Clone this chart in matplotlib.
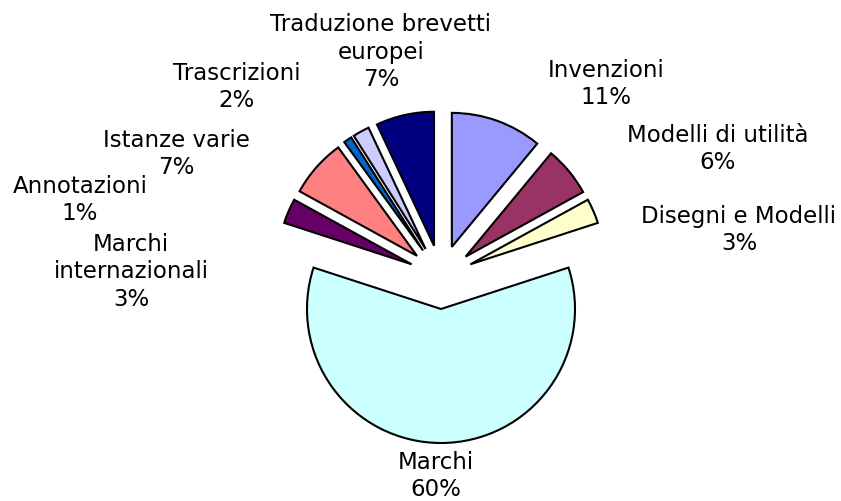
import matplotlib.pyplot as plt

# slices, clockwise from 12 o'clock
categories = ["Invenzioni", "Modelli di utilità", "Disegni e Modelli", "Marchi",
              "Marchi\ninternazionali", "Istanze varie", "Annotazioni",
              "Trascrizioni", "Traduzione brevetti\neuropei"]
shares = [11, 6, 3, 60, 3, 7, 1, 2, 7]
colors = ["#9999FF", "#993366", "#FFFFCC", "#CCFFFF", "#660066",
          "#FF8080", "#0066CC", "#CCCCFF", "#000080"]

# label centres in pixel coords (x from left, y from top)
label_pos = [(606, 84), (718, 149), (739, 230), (436, 476), (131, 272),
             (176, 154), (80, 200), (237, 87), (381, 52)]

W, H = 841, 501
fig = plt.figure(figsize=(W / 100, H / 100), dpi=100)
ax = fig.add_axes([0, 0, 1, 1])

cx, cy = 441, 277
r = 134
explode = [32] * len(shares)   # pie offsets are in data units here (pixels)

ax.pie(shares, colors=colors, explode=explode, startangle=90, counterclock=False,
       center=(cx, H - cy), radius=r, frame=True,
       wedgeprops=dict(edgecolor="black", linewidth=1.5))

for name, val, (x, y) in zip(categories, shares, label_pos):
    ax.text(x, H - y, f"{name}\n{val}%", ha="center", va="center",
            fontsize=16.5, family="DejaVu Sans", linespacing=1.25)

ax.set_xlim(0, W)
ax.set_ylim(0, H)
ax.axis("off")

fig.savefig("out.png", dpi=100)
